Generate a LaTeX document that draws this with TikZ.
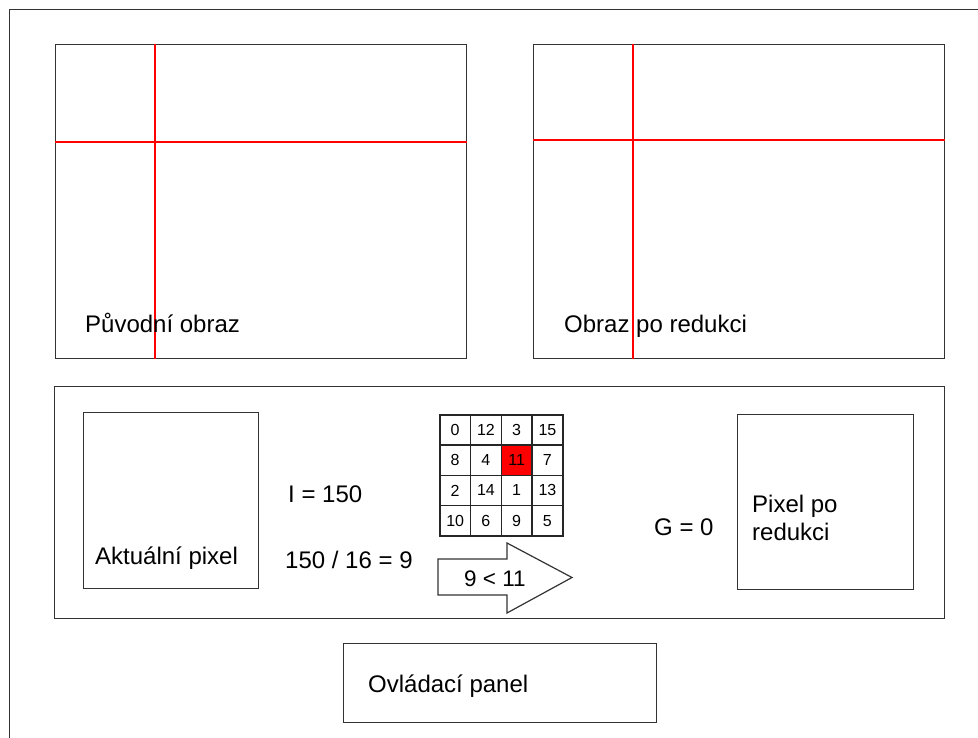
\documentclass[tikz,border=0pt]{standalone}
\usepackage{fontspec}
\setmainfont{Liberation Sans}
\begin{document}
\begin{tikzpicture}[x=1pt,y=-1pt,
  frame/.style={draw=black!80, line width=1.2pt},
  box/.style={frame, rectangle, inner sep=0pt, anchor=north west},
  redline/.style={draw=red, line width=2pt},
  lbl/.style={anchor=base west, inner sep=0pt, font=\fontsize{24}{28}\selectfont},
  cell/.style={draw=black!85, line width=1.6pt, rectangle, inner sep=0pt, minimum width=30.75pt, minimum height=30.25pt, anchor=north west, font=\fontsize{16}{18}\selectfont}
]
\useasboundingbox (0,0) rectangle (978,738);
% outer frame (clipped)
\coordinate (fb) at (9.5,738);
\coordinate (ftl) at (9.5,9.5);
\coordinate (fr) at (978,9.5);
\draw[frame] (fb) -- (ftl) -- (fr);

% top-left image
\node[box, minimum width=411pt, minimum height=314pt] (orig) at (55,44) {};
\draw[redline] (orig.north west -| 155,0) -- (orig.south west -| 155,0);
\draw[redline] (orig.west |- 0,142) -- (orig.east |- 0,142);
\node[lbl] (origt) at (85,332) {Původní obraz};

% top-right image
\node[box, minimum width=411pt, minimum height=314pt] (red) at (533,44) {};
\draw[redline] (red.north west -| 633,0) -- (red.south west -| 633,0);
\draw[redline] (red.west |- 0,140) -- (red.east |- 0,140);
\node[lbl] (redt) at (564,332) {Obraz po redukci};

% middle panel
\node[box, minimum width=890pt, minimum height=232pt] (panel) at (54,386) {};

\node[box, minimum width=175pt, minimum height=176pt] (akt) at (83,412) {};
\node[lbl] (aktt) at (95,564) {Aktuální pixel};

\node[lbl] (ival) at (288,502) {I = 150};
\node[lbl] (div) at (285,568) {150 / 16 = 9};

% dither matrix
\foreach \r/\row in {0/{0,12,3,15},1/{8,4,11,7},2/{2,14,1,13},3/{10,6,9,5}}{
  \foreach \v [count=\c from 0] in \row {
    \pgfmathsetmacro{\xx}{439+30.75*\c}
    \pgfmathsetmacro{\yy}{414+30.25*\r}
    \ifnum\r=1 \ifnum\c=2
      \node[cell, fill=red] (m-\r-\c) at (\xx,\yy) {\v};
    \else
      \node[cell] (m-\r-\c) at (\xx,\yy) {\v};
    \fi\else
      \node[cell] (m-\r-\c) at (\xx,\yy) {\v};
    \fi
  }
}

% comparison arrow
\draw[frame, fill=white] (438,559) -- (507,559) -- (507,543) -- (572,577.5) -- (507,613) -- (507,595) -- (438,595) -- cycle;
\node[lbl, font=\fontsize{22.5}{26}\selectfont] (cmp) at (464,586) {9 < 11};

\node[lbl] (gval) at (654,535) {G = 0};

\node[box, minimum width=176pt, minimum height=175pt] (pix) at (737,414) {};
\node[lbl, align=left, anchor=base west] (pixt) at (752,540) {Pixel po\\redukci};

% control panel
\node[box, minimum width=313pt, minimum height=79pt] (ctrl) at (343,643) {};
\node[lbl] (ctrlt) at (368,692) {Ovládací panel};
\end{tikzpicture}
\end{document}
